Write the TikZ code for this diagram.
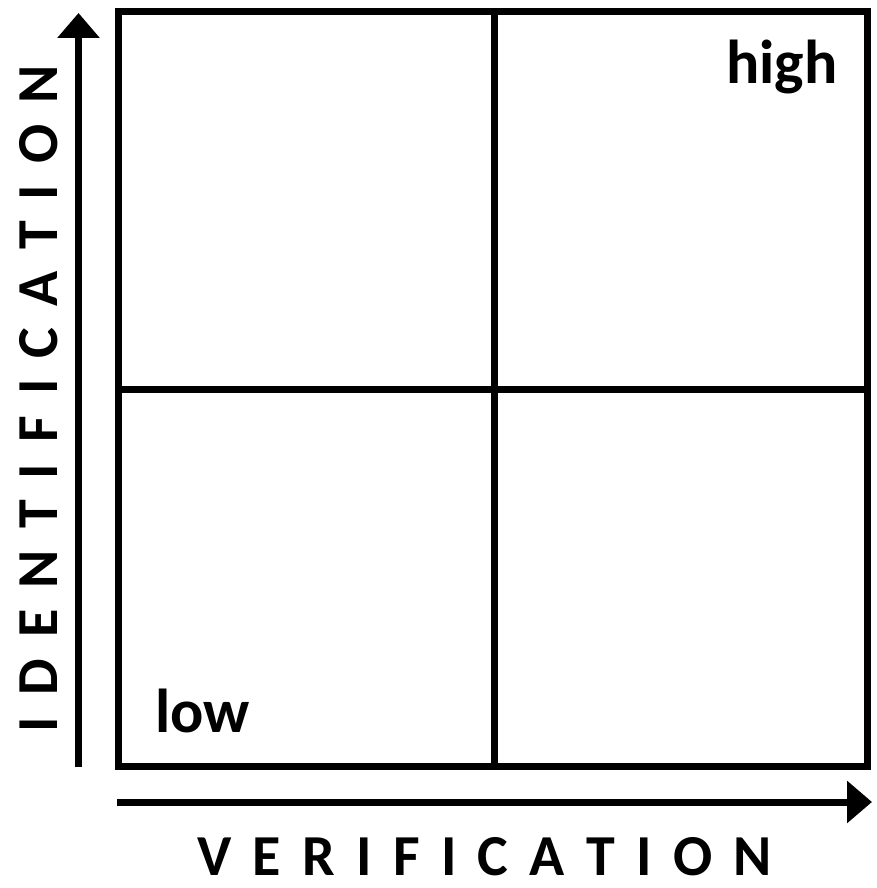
\documentclass[tikz,border=0pt]{standalone}
\usepackage{fontspec}
\setmainfont{Carlito}
\usetikzlibrary{arrows.meta}
\begin{document}
\begin{tikzpicture}[x=1pt,y=-1pt,
  gridline/.style={line width=7pt,line cap=rect},
  axisarrow/.style={line width=7pt,-{Triangle[length=25pt,width=41pt]}},
  axislabel/.style={inner sep=0pt,font=\fontsize{58}{60}\selectfont\bfseries},
  cornerlabel/.style={inner sep=0pt,anchor=base west,font=\fontsize{62}{64}\selectfont\bfseries}]
\useasboundingbox (0,0) rectangle (876,888);
\coordinate (tl) at (118,12);
\coordinate (br) at (867,766.5);
\draw[gridline] (tl) rectangle (br);
\coordinate (mt) at (494.5,12);
\coordinate (mb) at (494.5,766.5);
\coordinate (ml) at (118,389);
\coordinate (mr) at (867,389);
\draw[gridline] (mt) -- (mb);
\draw[gridline] (ml) -- (mr);
\coordinate (va0) at (78.5,767);
\coordinate (va1) at (78.5,13);
\draw[axisarrow] (va0) -- (va1);
\coordinate (ha0) at (117,802);
\coordinate (ha1) at (872,802);
\draw[axisarrow] (ha0) -- (ha1);
\node[axislabel,anchor=base] (xl) at (484.5,875) {\makebox[575pt][s]{V\hfill E\hfill R\hfill I\hfill F\hfill I\hfill C\hfill A\hfill T\hfill I\hfill O\hfill N}};
\node[axislabel,anchor=base,rotate=90] (yl) at (57,398.5) {\makebox[667pt][s]{I\hfill D\hfill E\hfill N\hfill T\hfill I\hfill F\hfill I\hfill C\hfill A\hfill T\hfill I\hfill O\hfill N}};
\node[cornerlabel] (hi) at (726,84) {high};
\node[cornerlabel] (lo) at (155,732) {low};
\end{tikzpicture}
\end{document}
